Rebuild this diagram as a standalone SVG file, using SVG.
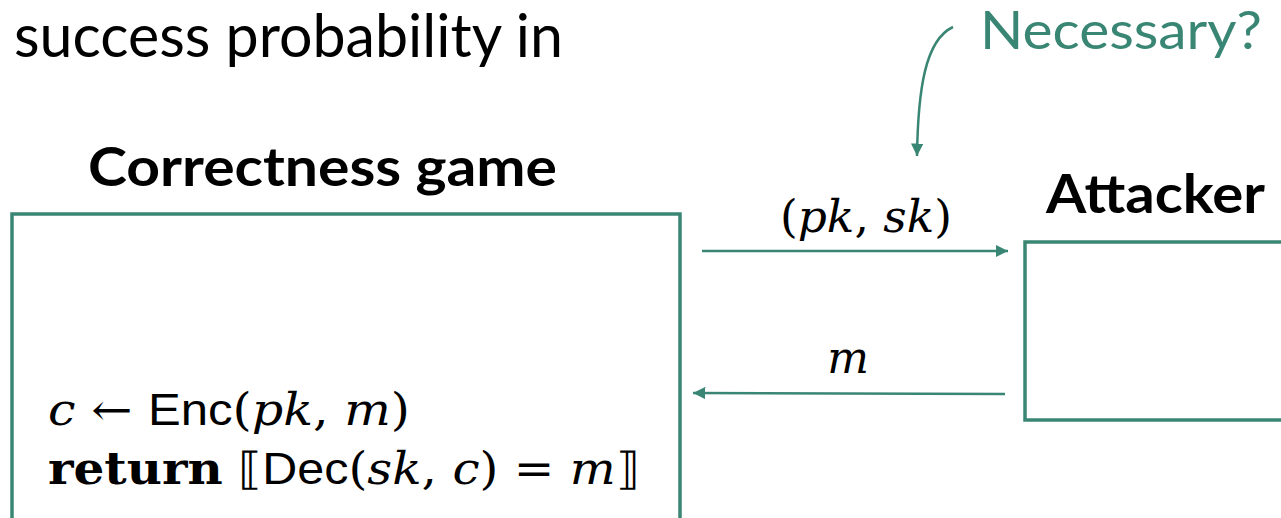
<svg xmlns="http://www.w3.org/2000/svg" width="1281" height="518" viewBox="0 0 1281 518">
<defs>
<style>
.box{fill:none;stroke:#3a8674;stroke-width:3.5}
.conn{stroke:#3a8674;stroke-width:2.5;fill:none}
.title{font-family:Lato,"Liberation Sans",sans-serif;font-weight:bold;font-size:53px;fill:#000}
.plain{font-family:Lato,"Liberation Sans",sans-serif;font-size:60px;fill:#000}
.math{font-family:"DejaVu Serif","Liberation Serif",serif;font-size:44px;fill:#000}
.mi{font-style:italic}
.sf{font-family:"Liberation Sans",sans-serif}
.bf{font-weight:bold}
</style>
<marker id="ah" viewBox="0 0 10 10" refX="10" refY="5" markerWidth="5" markerHeight="5" orient="auto" markerUnits="strokeWidth">
<path d="M0,0 L10,5 L0,10 z" fill="#3a8674"/>
</marker>
</defs>
<rect width="1281" height="518" fill="#fff"/>
<text class="plain" x="14" y="57" textLength="549" lengthAdjust="spacingAndGlyphs">success probability in</text>
<text x="980" y="49" font-family="Lato, Liberation Sans, sans-serif" font-size="52" fill="#3a8674" textLength="282" lengthAdjust="spacingAndGlyphs">Necessary?</text>
<g id="game">
<text class="title" x="88" y="186" textLength="469" lengthAdjust="spacingAndGlyphs">Correctness game</text>
<rect class="box" x="12" y="214" width="668" height="330"/>
<text class="math" x="48" y="425" textLength="362" lengthAdjust="spacingAndGlyphs"><tspan class="mi">c</tspan> ← <tspan class="sf">Enc</tspan>(<tspan class="mi">pk</tspan>, <tspan class="mi">m</tspan>)</text>
<text class="math" x="48" y="484" textLength="592" lengthAdjust="spacingAndGlyphs"><tspan class="bf">return</tspan> ⟦<tspan class="sf">Dec</tspan>(<tspan class="mi">sk</tspan>, <tspan class="mi">c</tspan>) = <tspan class="mi">m</tspan>⟧</text>
</g>
<g id="attacker">
<text class="title" x="1046" y="213" textLength="219" lengthAdjust="spacingAndGlyphs">Attacker</text>
<rect class="box" x="1025" y="242" width="300" height="178"/>
</g>
<g id="connectors">
<line class="conn" x1="702" y1="251" x2="1008" y2="251" marker-end="url(#ah)"/>
<text class="math" x="866" y="232" text-anchor="middle" font-size="44" textLength="172" lengthAdjust="spacingAndGlyphs">(<tspan class="mi">pk</tspan>, <tspan class="mi">sk</tspan>)</text>
<line class="conn" x1="1005" y1="394" x2="693" y2="393" marker-end="url(#ah)"/>
<text class="math" x="848" y="373" text-anchor="middle" font-size="52"><tspan class="mi">m</tspan></text>
<path class="conn" d="M953,27 C925,40 918,90 917,156" marker-end="url(#ah)"/>
</g>
</svg>
